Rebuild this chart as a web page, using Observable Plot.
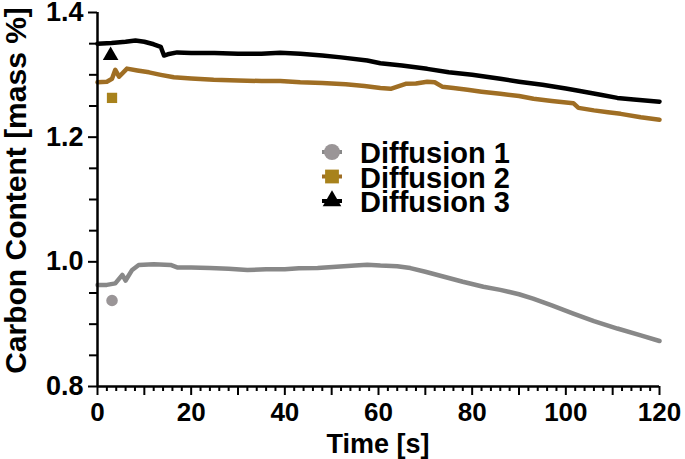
<!DOCTYPE html>
<html>
<head>
<meta charset="utf-8">
<script src="https://cdn.jsdelivr.net/npm/d3@7"></script>
<script src="https://cdn.jsdelivr.net/npm/@observablehq/plot@0.6"></script>
<style>
  html, body { margin: 0; padding: 0; background: #fff; }
  #chart svg { display: block; }
</style>
</head>
<body>
<div id="chart"></div>
<script>
// ---- Data ----
const seriesNames = ["Diffusion 1", "Diffusion 2", "Diffusion 3"];

const time1 = [0, 2, 3.8, 5.3, 6, 7.4, 8.8, 12, 15.6, 17, 20, 24, 28, 32, 36, 40, 43, 47, 51, 55, 57.6, 60.4, 64, 66.8, 70, 74, 78, 82.4, 86, 90, 93, 97, 101.6, 106, 111, 116, 120];
const carbon1 = [0.963, 0.963, 0.9655, 0.979, 0.970, 0.987, 0.995, 0.996, 0.995, 0.991, 0.991, 0.990, 0.989, 0.987, 0.988, 0.988, 0.9896, 0.990, 0.992, 0.994, 0.9955, 0.994, 0.993, 0.990, 0.984, 0.976, 0.968, 0.960, 0.955, 0.948, 0.941, 0.930, 0.917, 0.905, 0.893, 0.882, 0.873];

const time2 = [0, 2, 3.1, 3.8, 4.6, 6.3, 8.5, 11, 13.5, 16.3, 20, 24.8, 30, 35, 39, 43.3, 48, 53, 57, 60.4, 62.6, 65.8, 68, 70.4, 72, 73.6, 76, 79, 82, 86, 90, 93.1, 97, 101.6, 102.7, 106, 109, 111.7, 116, 120];
const carbon2 = [1.288, 1.289, 1.2936, 1.308, 1.297, 1.310, 1.307, 1.304, 1.300, 1.296, 1.294, 1.292, 1.291, 1.290, 1.290, 1.288, 1.287, 1.285, 1.282, 1.279, 1.2775, 1.2855, 1.286, 1.289, 1.288, 1.281, 1.279, 1.276, 1.273, 1.2695, 1.266, 1.2615, 1.258, 1.2545, 1.247, 1.243, 1.240, 1.2374, 1.232, 1.228];

const time3 = [0, 3, 6, 8.1, 10, 12, 13.5, 14.2, 15, 17, 20, 25, 30, 35, 39, 43.3, 48, 52, 57.6, 60.4, 65, 70.4, 75, 80, 86, 90, 95, 100, 103, 107.4, 111, 114.5, 120];
const carbon3 = [1.3497, 1.351, 1.353, 1.355, 1.353, 1.349, 1.345, 1.331, 1.333, 1.336, 1.335, 1.335, 1.334, 1.334, 1.3353, 1.3337, 1.331, 1.328, 1.323, 1.3187, 1.315, 1.3096, 1.304, 1.300, 1.2936, 1.289, 1.284, 1.278, 1.274, 1.268, 1.263, 1.2604, 1.257];

// isolated single measurements near t = 3 s
const pointTime = [3.1, 3.1, 2.8];
const pointCarbon = [0.938, 1.263, 1.331];

// axis ticks
const xLabelTicks = [0, 20, 40, 60, 80, 100, 120];
const xMidTicks = [10, 30, 50, 70, 90, 110];
const xMinorTicks = [2, 4, 6, 8, 12, 14, 16, 18, 22, 24, 26, 28, 32, 34, 36, 38, 42, 44, 46, 48, 52, 54, 56, 58, 62, 64, 66, 68, 72, 74, 76, 78, 82, 84, 86, 88, 92, 94, 96, 98, 102, 104, 106, 108, 112, 114, 116, 118];
const yLabelTicks = [0.8, 1.0, 1.2, 1.4];
const yMinorTicks = [0.85, 0.9, 0.95, 1.05, 1.1, 1.15, 1.25, 1.3, 1.35];

// styles
const lineColors = ["#888888", "#9f6e24", "#000000"];
const symbolColors = ["#9a9597", "#a8821c", "#000000"];
const symbols = ["circle", "square", "triangle"];
const FONT = "'Liberation Sans', Arial, Helvetica, sans-serif";

// ---- Build tables ----
const lines = [
  ...time1.map((t, i) => ({series: seriesNames[0], t, c: carbon1[i]})),
  ...time2.map((t, i) => ({series: seriesNames[1], t, c: carbon2[i]})),
  ...time3.map((t, i) => ({series: seriesNames[2], t, c: carbon3[i]}))
];
const points = pointTime.map((t, i) => ({series: seriesNames[i], t, c: pointCarbon[i], symbol: symbols[i], fill: symbolColors[i]}));

const chart = Plot.plot({
  width: 685,
  height: 459,
  marginLeft: 97,
  marginRight: 26,
  marginTop: 12,
  marginBottom: 73,
  style: {fontFamily: FONT, fontWeight: "bold", fontSize: "27px", color: "#000", background: "#fff", overflow: "visible"},
  x: {domain: [0, 120]},
  y: {domain: [0.8, 1.4]},
  color: {domain: seriesNames, range: lineColors},
  symbol: {domain: symbols, range: symbols},
  marks: [
    Plot.line(lines, {x: "t", y: "c", z: "series", stroke: "series", strokeWidth: 4.5, strokeLinejoin: "round"}),
    Plot.dot(points, {x: "t", y: "c", symbol: "symbol", r: 5.8, fill: d => d.fill, stroke: "none"}),
    Plot.axisX({ticks: xMinorTicks, tickSize: 5, strokeWidth: 2, text: null, label: null}),
    Plot.axisX({ticks: xMidTicks, tickSize: 9, strokeWidth: 2, text: null, label: null}),
    Plot.axisX({ticks: xLabelTicks, tickSize: 9, strokeWidth: 2, tickPadding: 7, fontSize: 26, fontWeight: "bold", label: null}),
    Plot.axisY({ticks: yMinorTicks, tickSize: 8, strokeWidth: 2, text: null, label: null}),
    Plot.axisY({ticks: yLabelTicks, tickSize: 9, strokeWidth: 2, tickPadding: 5, tickFormat: d3.format(".1f"), fontSize: 27, fontWeight: "bold", label: null}),
    Plot.ruleX([0], {strokeWidth: 2.5}),
    Plot.ruleY([0.8], {strokeWidth: 2.5}),
    Plot.text(["Carbon Content [mass %]"], {frameAnchor: "left", textAnchor: "middle", rotate: -90, dx: -81, dy: -9, fontSize: 30, fontWeight: "bold", fill: "#000"})
  ]
});

document.getElementById("chart").appendChild(chart);

const svg = d3.select(chart);

// x axis title, centred under the frame
svg.append("text")
  .attr("x", 378).attr("y", 453)
  .attr("text-anchor", "middle")
  .attr("font-family", FONT).attr("font-weight", "bold").attr("font-size", 27)
  .attr("fill", "#000")
  .text("Time [s]");

// ---- Legend (inside plot area) ----
const legend = svg.append("g")
  .attr("font-family", FONT).attr("font-weight", "bold").attr("font-size", 29)
  .attr("text-anchor", "start");
const symbolTypes = [d3.symbolCircle, d3.symbolSquare, d3.symbolTriangle];
const symbolSizes = [200, 190, 150];
seriesNames.forEach((name, i) => {
  const cy = 152 + i * 24.5;
  const row = legend.append("g").attr("transform", `translate(332,${cy})`);
  row.append("line").attr("x1", -10).attr("x2", 10).attr("y1", 0).attr("y2", 0)
    .attr("stroke", lineColors[i]).attr("stroke-width", 4);
  row.append("path").attr("d", d3.symbol(symbolTypes[i], symbolSizes[i])())
    .attr("fill", symbolColors[i]);
  legend.append("text").attr("x", 360).attr("y", cy + 11)
    .attr("text-anchor", "start").attr("fill", "#000").text(name);
});
</script>
</body>
</html>
